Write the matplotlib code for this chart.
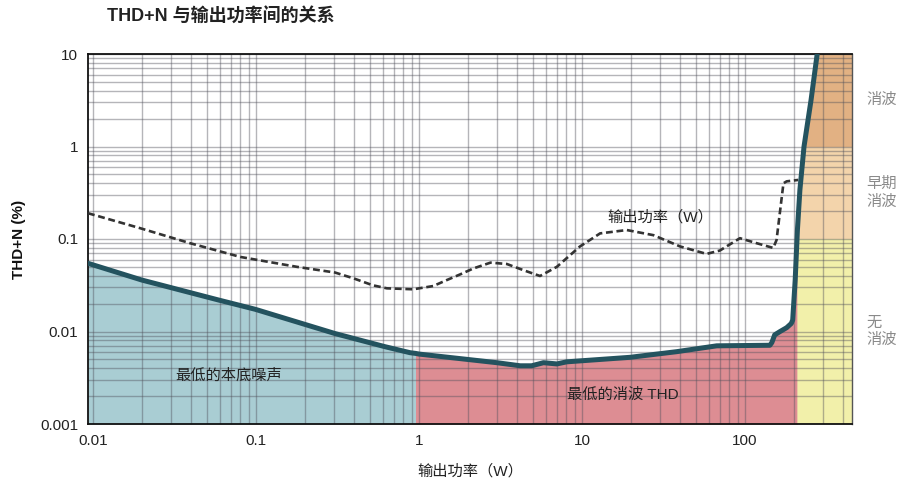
import numpy as np
import matplotlib
matplotlib.use("Agg")
import matplotlib.pyplot as plt
from matplotlib.patches import Polygon, Rectangle
from matplotlib.ticker import FixedLocator, FixedFormatter, LogLocator, NullFormatter

plt.rcParams['font.family'] = ['Liberation Sans', 'Noto Sans CJK SC']

# THD+N 曲线（实线）
thd_x = [0.0093, 0.0199, 0.0588, 0.0986, 0.305, 0.618, 0.88, 0.95, 1.0, 1.96, 3.0, 4.17,
         4.9, 5.8, 7.0, 8.05, 19.7, 38, 67, 142, 146, 152, 164, 180, 192, 196, 203, 209.5,
         217, 230, 254, 277, 290]
thd_y = [0.0546, 0.036, 0.0219, 0.0174, 0.0095, 0.00685, 0.0059, 0.0058, 0.0057, 0.0050,
         0.0046, 0.00426, 0.00426, 0.0046, 0.00446, 0.0047, 0.00526, 0.00605, 0.0070,
         0.0071, 0.0076, 0.0092, 0.0100, 0.0110, 0.0122, 0.0133, 0.036, 0.125, 0.34, 1.0,
         3.18, 10, 14]

# 虚线
dash_x = [0.0093, 0.0194, 0.0394, 0.08, 0.178, 0.305, 0.395, 0.52, 0.634, 0.92, 1.22,
          1.48, 1.79, 2.15, 2.74, 3.45, 4.37, 5.52, 7.0, 9.7, 12.9, 18.8, 27.4, 40, 58,
          70, 93, 118, 149, 156, 172, 180, 212]
dash_y = [0.19, 0.131, 0.09, 0.064, 0.050, 0.0434, 0.0376, 0.0316, 0.0293, 0.0286, 0.031,
          0.036, 0.0415, 0.048, 0.0555, 0.0537, 0.046, 0.0398, 0.050, 0.083, 0.115, 0.125,
          0.110, 0.083, 0.069, 0.075, 0.102, 0.090, 0.080, 0.0975, 0.40, 0.42, 0.435]

x_ticks = [0.01, 0.1, 1, 10, 100]
x_labels = ['0.01', '0.1', '1', '10', '100']
y_ticks = [0.001, 0.01, 0.1, 1, 10]
y_labels = ['0.001', '0.01', '0.1', '1', '10']

x_min, x_max = 0.0093, 453
noise_end = 0.95
clip_start = 209.5

fig = plt.figure(figsize=(9.09, 4.84), dpi=100)
ax = fig.add_axes([88 / 909, 1 - 424 / 484, 764 / 909, 370 / 484])
ax.set_xscale('log')
ax.set_yscale('log')
ax.set_xlim(x_min, x_max)
ax.set_ylim(0.001, 10)

px = np.array(thd_x)
py = np.array(thd_y)

# 最低的本底噪声 / 最低的消波 THD
ax.fill_between(px, py, 0.001, where=px <= noise_end, color='#a9cdd3', lw=0)
ax.fill_between(px, py, 0.001, where=(px >= noise_end) & (px <= clip_start),
                color='#dd8d93', lw=0)

# 右侧消波区域
m = px >= clip_start
verts = list(zip(px[m], py[m])) + [(x_max * 2, 14), (x_max * 2, 0.0005), (clip_start, 0.0005)]
clip = Polygon(verts, closed=True, transform=ax.transData, facecolor='none', edgecolor='none')
ax.add_patch(clip)
bands = [(0.001, 0.1, '#f2f0aa'), (0.1, 1, '#f3d4ab'), (1, 10, '#e2b183')]
for lo, hi, c in bands:
    r = Rectangle((clip_start, lo), x_max - clip_start, hi - lo, facecolor=c, lw=0, zorder=1)
    ax.add_patch(r)
    r.set_clip_path(clip)

ax.plot(dash_x, dash_y, color='#333333', lw=1.9, ls=(0, (2.6, 1.4)), zorder=3)
ax.plot(thd_x, thd_y, color='#24535f', lw=3.6, solid_joinstyle='round',
        solid_capstyle='round', zorder=4)

ax.xaxis.set_major_locator(FixedLocator(x_ticks))
ax.xaxis.set_major_formatter(FixedFormatter(x_labels))
ax.yaxis.set_major_locator(FixedLocator(y_ticks))
ax.yaxis.set_major_formatter(FixedFormatter(y_labels))
ax.xaxis.set_minor_locator(LogLocator(base=10, subs=np.arange(2, 10), numticks=20))
ax.yaxis.set_minor_locator(LogLocator(base=10, subs=np.arange(2, 10), numticks=20))
ax.xaxis.set_minor_formatter(NullFormatter())
ax.yaxis.set_minor_formatter(NullFormatter())
ax.tick_params(which='both', length=0, labelsize=11, colors='#222222', pad=7)
ax.grid(which='both', color='#50505a', alpha=0.42, lw=1.0)

for s in ['left', 'bottom', 'top']:
    ax.spines[s].set_color('#111111')
    ax.spines[s].set_linewidth(1.3)
ax.spines['right'].set_color('#555555')
ax.spines['right'].set_linewidth(1.0)

ax.set_xlabel('输出功率（W）', fontsize=11, color='#222222', labelpad=12)
ax.set_ylabel('THD+N (%)', fontsize=11, fontweight='bold', color='#111111', labelpad=10)

ax.text(0.068, 0.0033, '最低的本底噪声', fontsize=11, ha='center', va='center', color='#222222')
ax.text(17.9, 0.00206, '最低的消波 THD', fontsize=11, ha='center', va='center', color='#222222')
ax.text(30, 0.173, '输出功率（W）', fontsize=11, ha='center', va='center', color='#222222')

side = [(10 ** 0.5, '消波'), (10 ** -0.5, '早期\n消波'), (0.01, '无\n消波')]
for yy, t in side:
    ax.text(555, yy, t, fontsize=11, ha='left', va='center', color='#8a8a8a',
            linespacing=1.3, clip_on=False)

fig.text(107 / 909, 1 - 17 / 484, 'THD+N 与输出功率间的关系', fontsize=13,
         fontweight='bold', ha='left', va='center', color='#222222')

fig.savefig('out.png', dpi=100)
